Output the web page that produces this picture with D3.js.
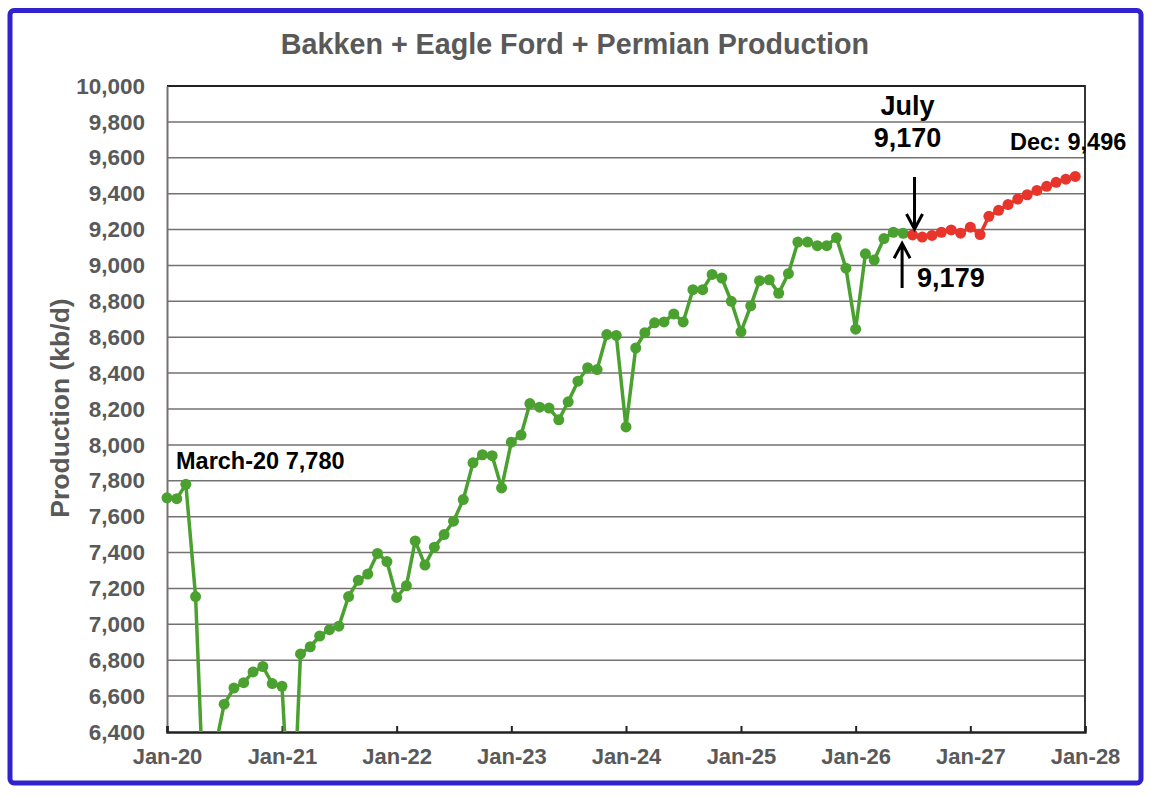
<!DOCTYPE html>
<html>
<head>
<meta charset="utf-8">
<script src="https://cdn.jsdelivr.net/npm/d3@7"></script>
<style>
  body { margin: 0; background: #fff; }
  svg text { font-family: "Liberation Sans", Arial, sans-serif; font-weight: bold; }
</style>
</head>
<body>
<svg width="1158" height="796"></svg>
<script>
// Dữ liệu: sản lượng hàng tháng (kb/d)
const actualStart = "2020-01";
const actualValues = [
  7705, 7700, 7780, 7155, 5820, 6300, 6555, 6645, 6675, 6735, 6765, 6670, // 2020
  6655, 5700, 6835, 6875, 6935, 6970, 6990, 7155, 7245, 7280, 7395, 7350, // 2021
  7150, 7215, 7465, 7330, 7430, 7500, 7575, 7695, 7900, 7945, 7940, 7760, // 2022
  8015, 8055, 8230, 8210, 8205, 8140, 8240, 8355, 8430, 8420, 8615, 8610, // 2023
  8100, 8540, 8625, 8680, 8685, 8730, 8685, 8865, 8865, 8950, 8930, 8800, // 2024
  8630, 8775, 8915, 8920, 8845, 8955, 9130, 9130, 9110, 9110, 9155, 8985, // 2025
  8645, 9065, 9030, 9150, 9185, 9179                                      // 2026
];
const forecastStart = "2026-07";
const forecastValues = [
  9170, 9158, 9167, 9185, 9198, 9180,                                     // 2026
  9213, 9172, 9274, 9307, 9339, 9370, 9394, 9418, 9441, 9463, 9481, 9496  // 2027
];
const yTicks = [6400, 6600, 6800, 7000, 7200, 7400, 7600, 7800, 8000, 8200,
                8400, 8600, 8800, 9000, 9200, 9400, 9600, 9800, 10000];
const xDomain = ["2020-01", "2028-01"];

const parseMonth = d3.timeParse("%Y-%m");
const toSeries = (start, values) => values.map((v, i) => ({
  date: d3.timeMonth.offset(parseMonth(start), i),
  value: v
}));
const actual = toSeries(actualStart, actualValues);
const forecast = toSeries(forecastStart, forecastValues);

const margin = { top: 86, right: 73, bottom: 64, left: 167 };
const width = 1158, height = 796;

const svg = d3.select("svg");

// Khung viền xanh
svg.append("rect")
  .attr("x", 10).attr("y", 10.5)
  .attr("width", 1131).attr("height", 772.5)
  .attr("rx", 4)
  .attr("fill", "#fff")
  .attr("stroke", "#3022cc")
  .attr("stroke-width", 5);

const x = d3.scaleTime()
  .domain(xDomain.map(parseMonth))
  .range([margin.left, width - margin.right]);

const y = d3.scaleLinear()
  .domain([6400, 10000])
  .range([height - margin.bottom, margin.top]);

const gray = "#595959";
const green = "#4ba130";
const red = "#e8352b";

// Lưới
svg.append("g")
  .selectAll("line")
  .data(yTicks.slice(1))
  .enter().append("line")
  .attr("x1", margin.left).attr("x2", width - margin.right)
  .attr("y1", d => y(d)).attr("y2", d => y(d))
  .attr("stroke", "#767171")
  .attr("stroke-width", 1.5);

// Viền vùng vẽ (trên + phải)
svg.append("path")
  .attr("d", `M${margin.left},${margin.top}H${width - margin.right}V${height - margin.bottom}`)
  .attr("fill", "none")
  .attr("stroke", "#222")
  .attr("stroke-width", 1.8);

// Trục Y
const yAxis = svg.append("g")
  .attr("transform", `translate(${margin.left},0)`)
  .call(d3.axisLeft(y).tickValues(yTicks).tickSize(0).tickPadding(22).tickFormat(d3.format(",")));
yAxis.select(".domain").attr("stroke", "#767171").attr("stroke-width", 2);
yAxis.selectAll("text")
  .attr("fill", gray)
  .style("font-size", "22.5px");

// Trục X
const xAxis = svg.append("g")
  .attr("transform", `translate(0,${height - margin.bottom})`)
  .call(d3.axisBottom(x).ticks(d3.timeYear.every(1)).tickSize(-6).tickPadding(16)
    .tickFormat(d3.timeFormat("%b-%y")));
xAxis.select(".domain").attr("stroke", "#222").attr("stroke-width", 2.5);
xAxis.selectAll(".tick line").attr("stroke", "#222").attr("stroke-width", 2);
xAxis.selectAll("text")
  .attr("fill", gray)
  .style("font-size", "22px");

// Cắt phần dưới 6,400
svg.append("clipPath").attr("id", "plot-clip")
  .append("rect")
  .attr("x", margin.left - 10).attr("y", margin.top - 10)
  .attr("width", width - margin.left - margin.right + 20)
  .attr("height", height - margin.top - margin.bottom + 10);

const plot = svg.append("g").attr("clip-path", "url(#plot-clip)");

const line = d3.line().x(d => x(d.date)).y(d => y(d.value));

// Đường dự báo (nối từ điểm thực cuối)
plot.append("path")
  .datum([actual[actual.length - 1]].concat(forecast))
  .attr("d", line)
  .attr("fill", "none")
  .attr("stroke", red)
  .attr("stroke-width", 3.5);

plot.append("path")
  .datum(actual)
  .attr("d", line)
  .attr("fill", "none")
  .attr("stroke", green)
  .attr("stroke-width", 3.5)
  .attr("stroke-linejoin", "round");

plot.selectAll("circle.actual")
  .data(actual)
  .enter().append("circle")
  .attr("class", "actual")
  .attr("cx", d => x(d.date)).attr("cy", d => y(d.value))
  .attr("r", 5.5)
  .attr("fill", green);

plot.selectAll("circle.forecast")
  .data(forecast)
  .enter().append("circle")
  .attr("class", "forecast")
  .attr("cx", d => x(d.date)).attr("cy", d => y(d.value))
  .attr("r", 5.5)
  .attr("fill", red);

// Tiêu đề
svg.append("text")
  .attr("x", 575).attr("y", 54)
  .attr("text-anchor", "middle")
  .attr("fill", gray)
  .style("font-size", "28.7px")
  .text("Bakken + Eagle Ford + Permian Production");

// Tên trục Y
svg.append("text")
  .attr("transform", "rotate(-90)")
  .attr("x", -408).attr("y", 69)
  .attr("text-anchor", "middle")
  .attr("fill", gray)
  .style("font-size", "26.5px")
  .text("Production (kb/d)");

// Chú thích
const peak = actual[2];
svg.append("text")
  .attr("x", 176).attr("y", 469)
  .style("font-size", "23.5px")
  .attr("fill", "#000")
  .text("March-20 " + d3.format(",")(peak.value));

const lastActual = actual[actual.length - 1];
const firstForecast = forecast[0];
const lastForecast = forecast[forecast.length - 1];

svg.append("text")
  .attr("x", x(firstForecast.date) - 5).attr("y", 115)
  .attr("text-anchor", "middle")
  .style("font-size", "27px")
  .text("July");
svg.append("text")
  .attr("x", x(firstForecast.date) - 5).attr("y", 147)
  .attr("text-anchor", "middle")
  .style("font-size", "27px")
  .text(d3.format(",")(firstForecast.value));

svg.append("text")
  .attr("x", x(lastActual.date) + 14).attr("y", 287)
  .style("font-size", "27px")
  .text(d3.format(",")(lastActual.value));

svg.append("text")
  .attr("x", 1010).attr("y", 150)
  .style("font-size", "23.5px")
  .text("Dec: " + d3.format(",")(lastForecast.value));

// Mũi tên
function arrow(x0, yFrom, yTip) {
  const dir = yTip > yFrom ? -1 : 1;
  svg.append("path")
    .attr("d", `M${x0},${yFrom}V${yTip}M${x0 - 8},${yTip + dir * 15}L${x0},${yTip}L${x0 + 8},${yTip + dir * 15}`)
    .attr("fill", "none")
    .attr("stroke", "#000")
    .attr("stroke-width", 3);
}
arrow(x(firstForecast.date) + 2, 177, y(firstForecast.value) - 6);
arrow(x(lastActual.date) - 1, 288, y(lastActual.value) + 10);
</script>
</body>
</html>
